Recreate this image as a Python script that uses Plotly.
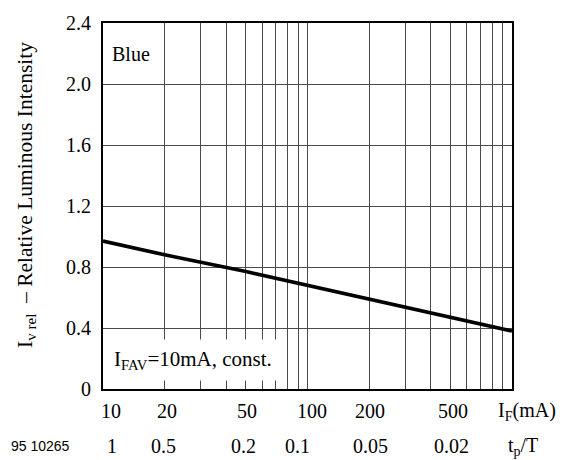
import math
import plotly.graph_objects as go

# Data
forward_current_mA = [10, 20, 50, 100, 200, 500, 1000]
rel_intensity = [0.97, 0.88, 0.77, 0.68, 0.59, 0.47, 0.38]

x_grid = [10, 20, 30, 40, 50, 60, 70, 80, 90, 100,
          200, 300, 400, 500, 600, 700, 800, 900, 1000]
x_label_vals = [10, 20, 50, 100, 200, 500]
x_label_text = ["10", "20", "50", "100", "200", "500"]
duty_text = ["1", "0.5", "0.2", "0.1", "0.05", "0.02"]
y_ticks = [0, 0.4, 0.8, 1.2, 1.6, 2.0, 2.4]
y_tick_text = ["0", "0.4", "0.8", "1.2", "1.6", "2.0", "2.4"]

FONT = "Liberation Serif"
FS = 20

fig = go.Figure()
fig.add_trace(go.Scatter(
    x=forward_current_mA, y=rel_intensity, mode="lines",
    line=dict(color="black", width=3.6), showlegend=False,
    hoverinfo="skip"))

annotations = []
row1_shift = {10: 8, 20: 2, 50: 1, 100: 4, 200: 1, 500: 3}
row2_shift = {10: 9, 20: -1, 50: -2, 100: -10, 200: 1, 500: 1}
for v, t, d in zip(x_label_vals, x_label_text, duty_text):
    annotations.append(dict(x=math.log10(v), y=0, xref="x", yref="y",
                            text=t, showarrow=False, yshift=-22,
                            xshift=row1_shift[v], xanchor="center",
                            font=dict(family=FONT, size=FS, color="black")))
    annotations.append(dict(x=math.log10(v), y=0, xref="x", yref="y",
                            text=d, showarrow=False, yshift=-57,
                            xshift=row2_shift[v], xanchor="center",
                            font=dict(family=FONT, size=FS, color="black")))

annotations += [
    dict(x=1, y=0, xref="paper", yref="y", text="I<sub>F</sub>(mA)",
         showarrow=False, xanchor="center", xshift=15, yshift=-22,
         font=dict(family=FONT, size=FS, color="black")),
    dict(x=1, y=0, xref="paper", yref="y", text="t<sub>p</sub>/T",
         showarrow=False, xanchor="center", xshift=11, yshift=-57,
         font=dict(family=FONT, size=FS, color="black")),
    dict(x=0, y=0, xref="paper", yref="y", text="95 10265",
         showarrow=False, xanchor="center", xshift=-63, yshift=-57,
         font=dict(family="Liberation Sans", size=14, color="black")),
    dict(x=0, y=2.2, xref="paper", yref="y", text="Blue",
         showarrow=False, xanchor="left", xshift=7,
         font=dict(family=FONT, size=FS, color="black")),
    dict(x=0, y=0.19, xref="paper", yref="y",
         text="I<sub>FAV</sub>=10mA, const.",
         showarrow=False, xanchor="left", xshift=3,
         bgcolor="white", borderpad=7,
         font=dict(family=FONT, size=21, color="black")),
    dict(x=0, y=0.53, xref="paper", yref="paper",
         text="I<sub>v rel</sub>  \u2013 Relative Luminous Intensity",
         showarrow=False, textangle=-90, xanchor="center", xshift=-77,
         font=dict(family=FONT, size=21.5, color="black")),
]

fig.update_layout(
    width=567, height=460,
    margin=dict(l=103, r=55, t=19, b=71),
    paper_bgcolor="white", plot_bgcolor="white",
    annotations=annotations,
    font=dict(family=FONT, size=FS, color="black"),
)
fig.update_xaxes(
    type="log", range=[1, 3], tickvals=x_grid, showticklabels=False,
    ticks="", showgrid=True, gridcolor="#4a4a4a", gridwidth=1,
    showline=True, mirror=True, linecolor="black", linewidth=2,
    zeroline=False, fixedrange=True)
fig.update_yaxes(
    range=[0, 2.4], tickvals=y_ticks, ticktext=y_tick_text,
    ticks="", ticklabelstandoff=6, showgrid=True, gridcolor="#4a4a4a",
    gridwidth=1, showline=True, mirror=True, linecolor="black",
    linewidth=2, zeroline=False, fixedrange=True,
    tickfont=dict(family=FONT, size=FS, color="black"))

fig.write_html("out.html")
